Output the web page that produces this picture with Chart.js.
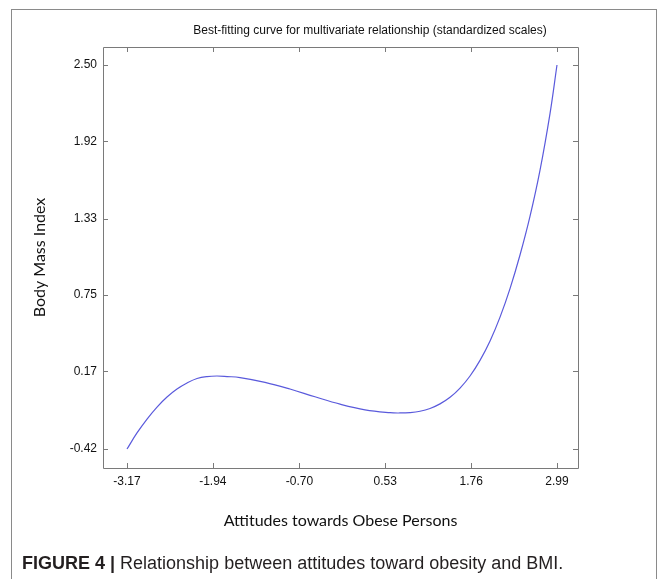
<!DOCTYPE html>
<html>
<head>
<meta charset="utf-8">
<script src="https://cdn.jsdelivr.net/npm/chart.js@4.4.1/dist/chart.umd.min.js"></script>
<style>
  html, body { margin: 0; padding: 0; background: #fff; overflow: hidden; width: 669px; height: 579px; }
  #frame { position: absolute; left: 11px; top: 9px; width: 646px; height: 600px; border: 1.5px solid #8a8a8a; box-sizing: border-box; }
  #wrap { position: absolute; left: 0; top: 0; width: 740px; height: 579px; }
  #caption { position: absolute; left: 22px; top: 553px; font-family: "Liberation Sans Narrow", "Liberation Sans", Arial, sans-serif; font-size: 18px; color: #231f20; white-space: nowrap; }
  #caption b { font-weight: bold; }
</style>
</head>
<body>
<div id="frame"></div>
<div id="wrap"><canvas id="c" width="740" height="579"></canvas></div>
<div id="caption"><b>FIGURE 4 |</b> Relationship between attitudes toward obesity and BMI.</div>
<script>
// Fitted curve, sampled along the attitude axis (standardized units)
const attitude = [-3.170, -3.027, -2.883, -2.740, -2.597, -2.454, -2.310, -2.167, -2.024, -1.881, -1.737, -1.551, -1.193, -0.835, -0.477, -0.118, 0.240, 0.598, 0.741, 0.884, 1.028, 1.171, 1.314, 1.458, 1.601, 1.744, 1.887, 2.031, 2.174, 2.317, 2.460, 2.604, 2.747, 2.890, 2.990];
const bmi = [-0.420, -0.298, -0.192, -0.101, -0.025, 0.036, 0.082, 0.116, 0.131, 0.135, 0.131, 0.123, 0.087, 0.036, -0.023, -0.079, -0.122, -0.144, -0.146, -0.143, -0.133, -0.112, -0.077, -0.027, 0.043, 0.135, 0.254, 0.402, 0.583, 0.800, 1.055, 1.351, 1.701, 2.131, 2.500];

// Axis tick values / labels
const xTicks = [-3.17, -1.94, -0.70, 0.53, 1.76, 2.99];
const xTickLabels = ['-3.17', '-1.94', '-0.70', '0.53', '1.76', '2.99'];
const yTicks = [-0.42, 0.17, 0.75, 1.33, 1.92, 2.50];
const yTickLabels = ['-0.42', '0.17', '0.75', '1.33', '1.92', '2.50'];

const points = attitude.map((x, i) => ({ x: x, y: bmi[i] }));

const tickFont = { family: '"Liberation Sans", Arial, sans-serif', size: 12 };
const titleFont = { family: 'Lato, "Open Sans", sans-serif', size: 16 };
const boxColor = '#7a7a7a';

// Axes box with inward tick marks on all four sides
const boxTicks = {
  id: 'boxTicks',
  afterDatasetsDraw(chart) {
    const { ctx, chartArea: a, scales } = chart;
    const len = 5;
    ctx.save();
    ctx.strokeStyle = boxColor;
    ctx.lineWidth = 1;
    ctx.beginPath();
    ctx.rect(Math.round(a.left) + 0.5, Math.round(a.top) + 0.5, Math.round(a.right - a.left), Math.round(a.bottom - a.top));
    xTicks.forEach(v => {
      const px = Math.round(scales.x.getPixelForValue(v)) + 0.5;
      ctx.moveTo(px, a.bottom); ctx.lineTo(px, a.bottom - len);
      ctx.moveTo(px, a.top); ctx.lineTo(px, a.top + len);
    });
    yTicks.forEach(v => {
      const py = Math.round(scales.y.getPixelForValue(v)) + 0.5;
      ctx.moveTo(a.left, py); ctx.lineTo(a.left + len, py);
      ctx.moveTo(a.right, py); ctx.lineTo(a.right - len, py);
    });
    ctx.stroke();
    ctx.restore();
  }
};

new Chart(document.getElementById('c'), {
  type: 'scatter',
  data: {
    datasets: [{
      data: points,
      showLine: true,
      borderColor: '#5a5adc',
      borderWidth: 1.2,
      pointRadius: 0,
      tension: 0.4,
      fill: false
    }]
  },
  options: {
    responsive: false,
    animation: false,
    events: [],
    layout: { padding: { left: 0, top: 0, right: 0, bottom: 41 } },
    plugins: {
      legend: { display: false },
      tooltip: { enabled: false },
      title: {
        display: true,
        text: 'Best-fitting curve for multivariate relationship (standardized scales)',
        color: '#111',
        font: { family: '"Liberation Sans", Arial, sans-serif', size: 12, weight: 'normal', lineHeight: 1.2 },
        padding: { top: 23.8, bottom: 8.8 }
      }
    },
    scales: {
      x: {
        type: 'linear',
        position: 'bottom',
        min: -3.514,
        max: 3.291,
        afterBuildTicks: s => { s.ticks = xTicks.map(v => ({ value: v })); },
        afterFit: s => { s.height = 70; },
        ticks: {
          autoSkip: false,
          maxRotation: 0,
          padding: 6,
          color: '#111',
          font: tickFont,
          callback: (v, i) => xTickLabels[i]
        },
        grid: { display: false, drawTicks: false },
        border: { display: false },
        title: {
          display: true,
          text: 'Attitudes towards Obese Persons',
          color: '#111',
          font: titleFont,
          padding: { top: 0, bottom: 8 }
        }
      },
      y: {
        type: 'linear',
        position: 'left',
        min: -0.5645,
        max: 2.637,
        afterBuildTicks: s => { s.ticks = yTicks.map(v => ({ value: v })); },
        afterFit: s => { s.width = 103; },
        ticks: {
          autoSkip: false,
          padding: 6,
          color: '#111',
          font: tickFont,
          callback: (v, i) => yTickLabels[i]
        },
        grid: { display: false, drawTicks: false },
        border: { display: false },
        title: {
          display: true,
          text: 'Body Mass Index',
          color: '#111',
          font: titleFont,
          padding: { top: 30, bottom: 0 }
        }
      },
      yRight: {
        type: 'linear',
        position: 'right',
        display: true,
        min: -0.5645,
        max: 2.637,
        afterFit: s => { s.width = 162; },
        ticks: { display: false },
        grid: { display: false, drawTicks: false },
        border: { display: false }
      }
    }
  },
  plugins: [boxTicks]
});
</script>
</body>
</html>
